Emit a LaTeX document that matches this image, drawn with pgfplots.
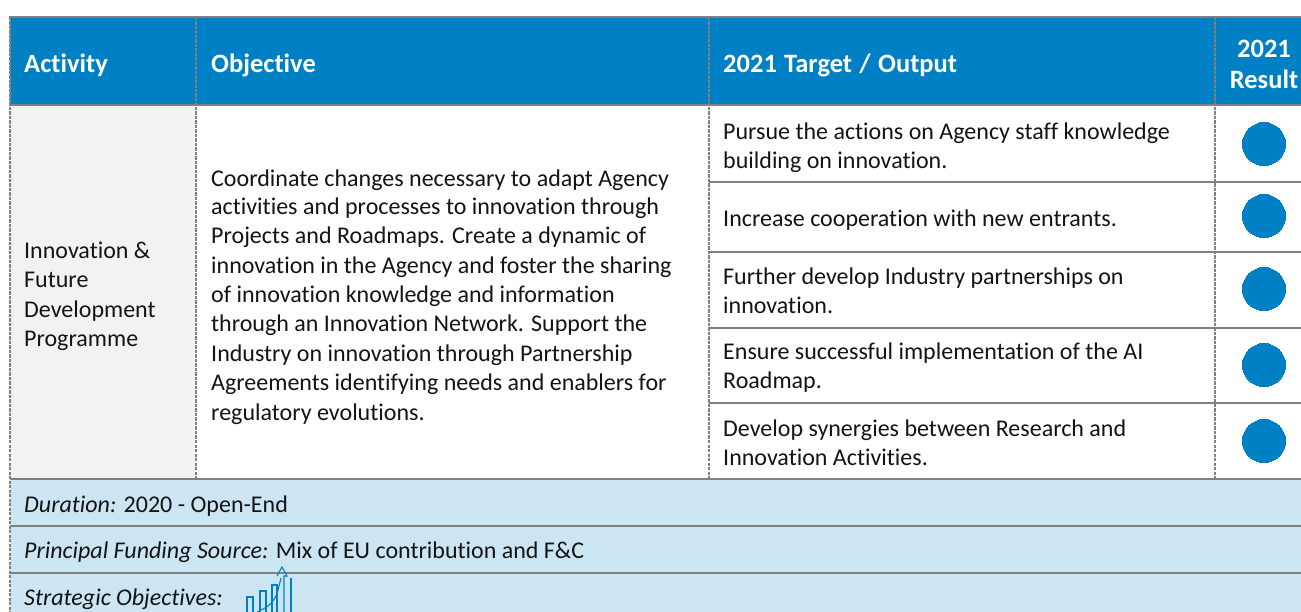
\documentclass[border=0pt]{standalone}
\usepackage{pgfplots}
\pgfplotsset{compat=1.18}
\usepackage{fontspec}
\setmainfont[Ligatures=NoCommon]{Carlito}
\definecolor{hb}{HTML}{0080C4}
\definecolor{lb}{HTML}{CCE5F3}
\definecolor{gf}{HTML}{F2F2F2}
\definecolor{gl}{HTML}{808080}
\newcommand{\bx}[5]{\addplot[fill=#5,draw=none,forget plot] coordinates {(#1,#2)(#3,#2)(#3,#4)(#1,#4)} --cycle;}
\newcommand{\hl}[3]{\addplot[gl,line width=2.9pt,forget plot] coordinates {(#1,#3)(#2,#3)};}
\newcommand{\vl}[3]{\addplot[gl,line width=1.8pt,dash pattern=on 3.4pt off 1.1pt,forget plot] coordinates {(#1,#2)(#1,#3)};}
\tikzset{t/.style={anchor=base west,inner sep=0pt,font=\fontsize{24}{28}\selectfont,text=black!92},
h/.style={anchor=base west,inner sep=0pt,font=\fontsize{26.5}{29}\selectfont\bfseries,text=white}}
\begin{document}
\begin{tikzpicture}
\begin{axis}[scale only axis,width=1301pt,height=612pt,xmin=0,xmax=1301,ymin=0,ymax=612,y dir=reverse,axis lines=none,ticks=none,clip=true]
\bx{0}{0}{1301}{612}{white}
\bx{10}{16}{1301}{105}{hb}
\bx{10}{105}{196}{479}{gf}
\bx{10}{479}{1301}{612}{lb}
\hl{9}{1301}{17}
\hl{10}{1301}{105}
\hl{709}{1301}{182}
\hl{709}{1301}{252}
\hl{709}{1301}{328}
\hl{709}{1301}{403}
\hl{10}{1301}{479}
\hl{10}{1301}{526}
\hl{10}{1301}{573}
\vl{10}{17}{612}
\vl{196}{17}{479}
\vl{709}{17}{479}
\vl{1215}{17}{479}
\addplot[only marks,mark=*,mark size=21.5pt,draw=hb,fill=hb,mark options={fill=hb,draw=hb,line width=0pt},forget plot] coordinates {(1264,144)(1264,216)(1264,289)(1264,365)(1264,441)};
\node[h] at (axis cs:24,72.5) {Activity};
\node[h] at (axis cs:211,72.5) {Objective};
\node[h] at (axis cs:723,72.5) {2021\hspace{1.3pt} Target\hspace{1.3pt} /\hspace{1.3pt} Output};
\node[h,anchor=base] at (axis cs:1264,58) {2021};
\node[h,anchor=base] at (axis cs:1264,88.5) {Result};
\node[t] at (axis cs:24,258.5) {Innovation \&};
\node[t] at (axis cs:24,288) {Future};
\node[t] at (axis cs:24,317.5) {Development};
\node[t] at (axis cs:24,346.5) {Programme};
\node[t] at (axis cs:211,186.5) {Coordinate changes necessary to adapt Agency};
\node[t] at (axis cs:211,214.5) {activities and processes to innovation through};
\node[t] at (axis cs:211,244) {Projects and Roadmaps. Create a dynamic of};
\node[t] at (axis cs:211,273.5) {innovation in the Agency and foster the sharing};
\node[t] at (axis cs:211,302.5) {of innovation knowledge and information};
\node[t] at (axis cs:211,331.5) {through an Innovation Network. Support the};
\node[t] at (axis cs:211,361) {Industry on innovation through Partnership};
\node[t] at (axis cs:211,390) {Agreements identifying needs and enablers for};
\node[t] at (axis cs:211,420) {regulatory evolutions.};
\node[t] at (axis cs:723,140) {Pursue the actions on Agency staff knowledge};
\node[t] at (axis cs:723,169) {building on innovation.};
\node[t] at (axis cs:723,226.5) {Increase cooperation with new entrants.};
\node[t] at (axis cs:723,285) {Further develop Industry partnerships on};
\node[t] at (axis cs:723,314) {innovation.};
\node[t] at (axis cs:723,359.5) {Ensure successful implementation of the AI};
\node[t] at (axis cs:723,388.5) {Roadmap.};
\node[t] at (axis cs:723,436) {Develop synergies between Research and};
\node[t] at (axis cs:723,465) {Innovation Activities.};
\node[t] at (axis cs:24,512) {\textit{Duration:} 2020 - Open-End};
\node[t] at (axis cs:24,558) {\textit{Principal Funding Source:} Mix of EU contribution and F\&C};
\node[t] at (axis cs:24,605) {\textit{Strategic Objectives:}};
\addplot[hb,line width=1.1pt,forget plot] coordinates {(247,612)(247,597)(253,597)(253,612)};
\addplot[hb,line width=1.1pt,forget plot] coordinates {(260,612)(260,591)(266,591)(266,612)};
\addplot[hb,line width=1.1pt,forget plot] coordinates {(272,612)(272,585)(277,585)(277,612)};
\addplot[hb,line width=1.1pt,forget plot] coordinates {(291,612)(291,578)};
\addplot[hb,line width=1.1pt,forget plot] coordinates {(277,576)(282,567)(287,576)(284,576)(284,612)};
\addplot[hb,line width=1.1pt,forget plot,smooth] coordinates {(257,612)(268,606)(276,596)(281,578)};
\end{axis}
\end{tikzpicture}
\end{document}
